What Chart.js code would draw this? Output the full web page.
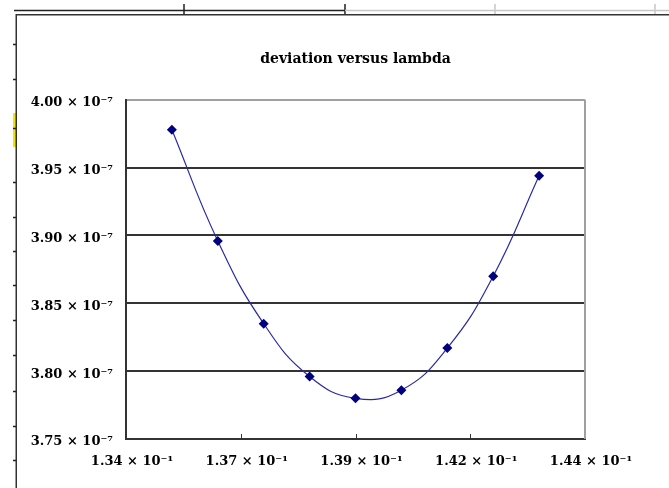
<!DOCTYPE html>
<html>
<head>
<meta charset="utf-8">
<script src="https://cdn.jsdelivr.net/npm/chart.js@4/dist/chart.umd.min.js"></script>
<style>
  html, body { margin: 0; padding: 0; background: #fff; overflow: hidden; }
  #wrap { position: absolute; left: 0; top: 0; width: 669px; height: 488px; }
</style>
</head>
<body>
<div id="wrap"><canvas id="c" width="669" height="488"></canvas></div>
<script>
// ---- data ----
const lambda = [0.135, 0.136, 0.137, 0.138, 0.139, 0.140, 0.141, 0.142, 0.143];
const deviation = [3.978e-7, 3.896e-7, 3.835e-7, 3.796e-7, 3.780e-7, 3.786e-7, 3.817e-7, 3.870e-7, 3.944e-7];
const xTickLabels = ['1.34', '1.37', '1.39', '1.42', '1.44'];
const yTickLabels = ['3.75', '3.80', '3.85', '3.90', '3.95', '4.00'];
const xExponent = ' × 10⁻¹';
const yExponent = ' × 10⁻⁷';
const chartTitle = 'deviation versus lambda';

const points = lambda.map((x, i) => ({ x: x, y: deviation[i] }));

// spreadsheet / frame decoration behind the chart
const sheetDecor = {
  id: 'sheetDecor',
  beforeDraw(chart) {
    const ctx = chart.ctx;
    ctx.save();
    ctx.fillStyle = '#fff';
    ctx.fillRect(0, 0, chart.width, chart.height);
    // spreadsheet cell border above the chart
    ctx.lineWidth = 1.5;
    ctx.strokeStyle = '#222';
    ctx.beginPath();
    ctx.moveTo(14, 10.5); ctx.lineTo(345, 10.5);
    ctx.moveTo(184, 4); ctx.lineTo(184, 15);
    ctx.moveTo(345, 4); ctx.lineTo(345, 15);
    ctx.stroke();
    ctx.strokeStyle = '#c8c8c8';
    ctx.beginPath();
    ctx.moveTo(345, 10.5); ctx.lineTo(669, 10.5);
    ctx.moveTo(495, 4); ctx.lineTo(495, 15);
    ctx.moveTo(655, 4); ctx.lineTo(655, 15);
    ctx.stroke();
    // yellow cell marker
    ctx.fillStyle = '#f2e600';
    ctx.fillRect(13, 113, 3, 34);
    // chart frame (top and left)
    ctx.strokeStyle = '#333';
    ctx.lineWidth = 1.5;
    ctx.beginPath();
    ctx.moveTo(16, 14.75); ctx.lineTo(669, 14.75);
    ctx.moveTo(16.25, 14); ctx.lineTo(16.25, 488);
    ctx.stroke();
    ctx.strokeStyle = '#222';
    ctx.lineWidth = 1.5;
    ctx.beginPath();
    const rows = [44, 79, 128, 182, 217, 251, 285, 320, 355, 391, 426, 460];
    rows.forEach(r => { ctx.moveTo(13, r + 0.5); ctx.lineTo(16, r + 0.5); });
    ctx.stroke();
    ctx.restore();
  },
  afterDraw(chart) {
    const ctx = chart.ctx;
    const a = chart.chartArea;
    const xs = chart.scales.x;
    ctx.save();
    // right border of plot area (light grey)
    ctx.strokeStyle = '#a0a0a0';
    ctx.lineWidth = 2;
    ctx.beginPath();
    ctx.moveTo(a.right, a.top); ctx.lineTo(a.right, a.bottom);
    ctx.stroke();
    // inward tick marks on x axis
    ctx.strokeStyle = '#333';
    ctx.lineWidth = 1;
    ctx.beginPath();
    xs.ticks.forEach((t, i) => {
      if (i === 0 || i === xs.ticks.length - 1) return;
      const px = Math.round(xs.getPixelForValue(t.value)) + 0.5;
      ctx.moveTo(px, a.bottom - 5); ctx.lineTo(px, a.bottom);
    });
    ctx.stroke();
    ctx.restore();
  }
};

new Chart(document.getElementById('c'), {
  type: 'line',
  data: {
    datasets: [{
      data: points,
      borderColor: '#2a2aa8',
      borderWidth: 1.2,
      backgroundColor: '#000080',
      pointBackgroundColor: '#000080',
      pointBorderColor: '#000080',
      pointStyle: 'rectRot',
      pointRadius: 5,
      pointBorderWidth: 0,
      tension: 0.45,
      fill: false
    }]
  },
  options: {
    responsive: false,
    animation: false,
    devicePixelRatio: 1,
    layout: { padding: { left: 0, right: 84, top: 0, bottom: 0 } },
    plugins: {
      legend: { display: false },
      tooltip: { enabled: false },
      title: {
        display: true,
        text: chartTitle,
        fullSize: false,
        color: '#000',
        font: { family: 'DejaVu Serif', weight: 'bold', size: 14 },
        padding: { top: 51, bottom: 32 }
      }
    },
    scales: {
      x: {
        type: 'linear',
        min: 0.134,
        max: 0.144,
        afterFit(s) { s.height = 49; },
        grid: { display: false, drawTicks: false },
        border: { display: true, color: '#333', width: 2 },
        ticks: {
          stepSize: 0.0025,
          autoSkip: false,
          maxRotation: 0,
          padding: 15,
          labelOffset: 6,
          color: '#000',
          font: { family: 'DejaVu Serif', weight: 'bold', size: 13 },
          callback: (v, i) => xTickLabels[i] + xExponent
        }
      },
      y: {
        type: 'linear',
        min: 3.75e-7,
        max: 4.00e-7,
        afterFit(s) { s.width = 126; },
        grid: {
          drawTicks: false,
          lineWidth: 2,
          color: (c) => (c.index === yTickLabels.length - 1 ? '#a0a0a0' : '#333')
        },
        border: { display: true, color: '#333', width: 2 },
        ticks: {
          stepSize: 0.05e-7,
          autoSkip: false,
          padding: 13,
          labelOffset: 3,
          color: '#000',
          font: { family: 'DejaVu Serif', weight: 'bold', size: 13 },
          callback: (v, i) => yTickLabels[i] + yExponent
        }
      }
    }
  },
  plugins: [sheetDecor]
});
</script>
</body>
</html>
